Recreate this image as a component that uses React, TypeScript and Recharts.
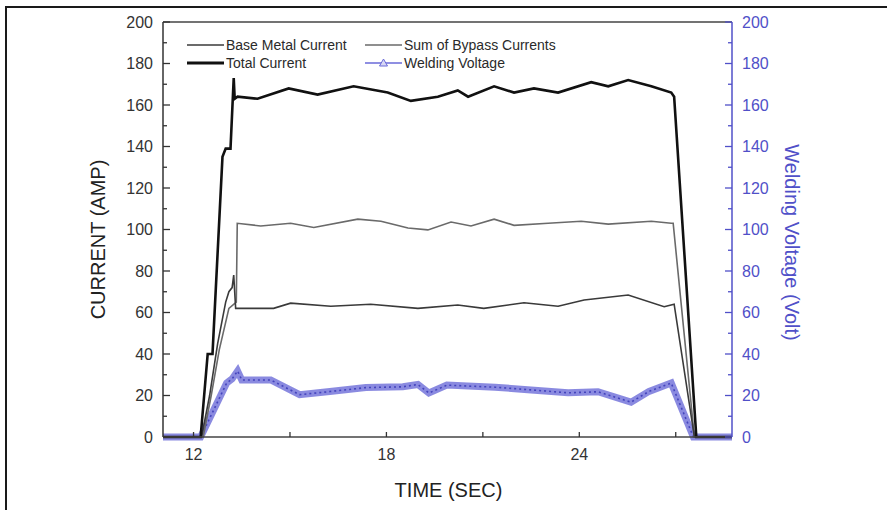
import { LineChart, Line, XAxis, YAxis, ReferenceLine } from 'recharts';

const font = '"Liberation Sans", Arial, sans-serif';

// Time points (sec) and values
const totalTime = [11.05, 12.22, 12.44, 12.59, 12.9, 13.0, 13.15, 13.25, 13.28, 13.37, 13.99, 14.96, 15.86, 16.98, 18.04, 18.76, 19.6, 20.22, 20.54, 21.35, 21.97, 22.59, 23.34, 24.37, 24.9, 25.52, 26.24, 26.86, 26.95, 27.64, 28.75];
const totalAmp = [0, 0, 40, 40, 135, 139, 139, 173, 163, 164, 163, 168, 165, 169, 166, 162, 164, 167, 164, 169, 166, 168, 166, 171, 169, 172, 169, 166, 164, 0, 0];

const baseTime = [11.05, 12.25, 12.5, 12.75, 13.0, 13.1, 13.2, 13.25, 13.31, 13.37, 14.49, 15.02, 16.27, 17.51, 18.98, 20.22, 21.03, 22.28, 23.34, 24.15, 25.52, 26.64, 26.95, 27.58, 28.75];
const baseAmp = [0, 0, 20, 45, 65, 70, 72, 78, 62, 62, 62, 64.5, 63, 64, 62, 63.6, 62, 64.7, 63, 66, 68.4, 62.8, 64, 0, 0];

const bypassTime = [11.05, 12.3, 12.55, 12.8, 13.1, 13.33, 13.36, 14.09, 15.02, 15.74, 17.11, 17.83, 18.67, 19.29, 20.01, 20.63, 21.35, 21.97, 23.03, 24.06, 24.9, 26.24, 26.86, 26.92, 27.58, 28.75];
const bypassAmp = [0, 0, 20, 42, 62, 65, 103, 101.7, 103, 101, 105, 104, 100.7, 99.8, 103.6, 101.7, 105, 102, 103, 104, 102.6, 104, 103, 103, 0, 0];

const voltTime = [11.05, 12.22, 13.03, 13.2, 13.37, 13.5, 14.4, 15.3, 16.24, 17.36, 18.51, 18.98, 19.32, 19.88, 21.38, 22.5, 23.65, 24.58, 25.61, 26.17, 26.86, 27.55, 28.75];
const voltValue = [0, 0, 26, 28, 31.8, 27.5, 27.5, 20.4, 21.9, 23.8, 24.2, 25.3, 21.2, 25, 24, 22.7, 21.3, 21.8, 16.8, 22, 26, 0, 0];

const xTicks = [12, 15, 18, 21, 24, 27];
const xLabelTicks = [12, 18, 24];
const yTicks = [0, 10, 20, 30, 40, 50, 60, 70, 80, 90, 100, 110, 120, 130, 140, 150, 160, 170, 180, 190, 200];

const toPoints = (ts: number[], vs: number[]) => ts.map((t, i) => ({ t, v: vs[i] }));
const totalData = toPoints(totalTime, totalAmp);
const baseData = toPoints(baseTime, baseAmp);
const bypassData = toPoints(bypassTime, bypassAmp);
const voltData = toPoints(voltTime, voltValue);

const BLUE = '#5050c8';
const DARK = '#333';

const LeftTick = (props: any) => {
  const { x, y, payload } = props;
  const major = payload.value % 20 === 0;
  const ax = x + 10;
  return (
    <g>
      <line x1={ax} x2={ax + (major ? 7 : 4)} y1={y} y2={y} stroke={DARK} strokeWidth={1.3} />
      {major && (
        <text x={x} y={y} dy="0.36em" textAnchor="end" fontSize={16} fontFamily={font} fill="#333">
          {payload.value}
        </text>
      )}
    </g>
  );
};

const RightTick = (props: any) => {
  const { x, y, payload } = props;
  const major = payload.value % 20 === 0;
  const ax = x - 10;
  return (
    <g>
      <line x1={ax} x2={ax - (major ? 7 : 4)} y1={y} y2={y} stroke={BLUE} strokeWidth={1.3} />
      {major && (
        <text x={x} y={y} dy="0.36em" textAnchor="start" fontSize={16} fontFamily={font} fill={BLUE}>
          {payload.value}
        </text>
      )}
    </g>
  );
};

const BottomTick = (props: any) => {
  const { x, y, payload } = props;
  const ay = y - 11;
  return (
    <g>
      <line x1={x} x2={x} y1={ay} y2={ay - 5} stroke={DARK} strokeWidth={1.3} />
      {xLabelTicks.includes(payload.value) && (
        <text x={x} y={y} dy="0.75em" textAnchor="middle" fontSize={16} fontFamily={font} fill="#333">
          {payload.value}
        </text>
      )}
    </g>
  );
};

const legendItems = [
  { name: 'Base Metal Current', color: '#3a3a3a', width: 1.6, row: 0, col: 0 },
  { name: 'Sum of Bypass Currents', color: '#6a6a6a', width: 1.6, row: 0, col: 1 },
  { name: 'Total Current', color: '#111', width: 2.8, row: 1, col: 0 },
  { name: 'Welding Voltage', color: '#6a6ad8', width: 1.3, row: 1, col: 1 },
];

const ChartLegend = () => (
  <div
    style={{
      position: 'absolute',
      left: 187,
      top: 37,
      width: 420,
      height: 36,
      fontFamily: font,
      fontSize: 14,
      color: '#2a2a2a',
    }}
  >
    {legendItems.map((it) => (
      <div
        key={it.name}
        style={{
          position: 'absolute',
          left: it.col ? 178 : 0,
          top: it.row ? 18 : 0,
          height: 16,
          display: 'flex',
          alignItems: 'center',
          whiteSpace: 'nowrap',
        }}
      >
        <svg width={37} height={16}>
          <line x1={0} x2={37} y1={8} y2={8} stroke={it.color} strokeWidth={it.width} />
          {it.row === 1 && it.col === 1 && (
            <polygon points="18.5,4 22.5,11 14.5,11" fill="#d8d8f4" stroke="#6a6ad8" strokeWidth={1} />
          )}
        </svg>
        <span style={{ marginLeft: 2 }}>{it.name}</span>
      </div>
    ))}
  </div>
);

const App = () => {
  return (
    <div style={{ position: 'absolute', left: 0, top: 0, width: 887, height: 510, overflow: 'hidden', background: '#fff' }}>
      <div
        style={{
          position: 'absolute',
          left: 5,
          top: 6,
          width: 882,
          height: 504,
          boxSizing: 'border-box',
          borderTop: '2.5px solid #1a1a1a',
          borderLeft: '2.5px solid #1a1a1a',
        }}
      />
      <div style={{ position: 'absolute', left: 0, top: 0 }}>
        <LineChart width={887} height={510} margin={{ top: 22, right: 95, bottom: 43, left: 103 }}>
          <XAxis
            dataKey="t"
            type="number"
            domain={[11.05, 28.75]}
            allowDataOverflow
            ticks={xTicks}
            interval={0}
            tickSize={0}
            tickMargin={11}
            tickLine={false}
            tick={<BottomTick />}
            height={30}
            stroke="#444"
            strokeWidth={1.5}
            label={{
              content: ({ viewBox }: any) => (
                <text
                  x={viewBox.x + viewBox.width / 2 + 1}
                  y={497}
                  textAnchor="middle"
                  fontSize={20}
                  fontFamily={font}
                  fill="#222"
                >
                  TIME (SEC)
                </text>
              ),
            }}
          />
          <YAxis
            yAxisId="left"
            domain={[0, 200]}
            ticks={yTicks}
            interval={0}
            width={60}
            tickSize={0}
            tickMargin={10}
            tickLine={false}
            tick={<LeftTick />}
            stroke={DARK}
            strokeWidth={1.5}
            label={{
              content: ({ viewBox }: any) => {
                const cx = viewBox.x + viewBox.width - 65;
                const cy = viewBox.y + viewBox.height / 2 + 10;
                return (
                  <text
                    x={cx}
                    y={cy}
                    transform={`rotate(-90 ${cx} ${cy})`}
                    textAnchor="middle"
                    dominantBaseline="central"
                    fontSize={20}
                    fontFamily={font}
                    fill="#222"
                  >
                    CURRENT (AMP)
                  </text>
                );
              },
            }}
          />
          <YAxis
            yAxisId="right"
            orientation="right"
            domain={[0, 200]}
            ticks={yTicks}
            interval={0}
            width={60}
            tickSize={0}
            tickMargin={10}
            tickLine={false}
            tick={<RightTick />}
            stroke={BLUE}
            strokeWidth={1.5}
            label={{
              content: ({ viewBox }: any) => {
                const cx = viewBox.x + 60;
                const cy = viewBox.y + viewBox.height / 2 + 13;
                return (
                  <text
                    x={cx}
                    y={cy}
                    transform={`rotate(90 ${cx} ${cy})`}
                    textAnchor="middle"
                    dominantBaseline="central"
                    fontSize={20}
                    fontFamily={font}
                    fill={BLUE}
                  >
                    Welding Voltage (Volt)
                  </text>
                );
              },
            }}
          />
          <ReferenceLine yAxisId="left" y={200} stroke="#444" strokeWidth={1.5} />
          <Line
            yAxisId="right"
            data={voltData}
            dataKey="v"
            name="Welding Voltage"
            stroke="#7676da"
            strokeOpacity={0.85}
            strokeWidth={7}
            dot={false}
            isAnimationActive={false}
          />
          <Line
            yAxisId="right"
            data={voltData}
            dataKey="v"
            name="Welding Voltage core"
            stroke="#4444bc"
            strokeWidth={1.6}
            strokeDasharray="2 3"
            dot={false}
            isAnimationActive={false}
          />
          <Line
            yAxisId="left"
            data={bypassData}
            dataKey="v"
            name="Sum of Bypass Currents"
            stroke="#6a6a6a"
            strokeWidth={1.6}
            dot={false}
            isAnimationActive={false}
          />
          <Line
            yAxisId="left"
            data={baseData}
            dataKey="v"
            name="Base Metal Current"
            stroke="#3a3a3a"
            strokeWidth={1.6}
            dot={false}
            isAnimationActive={false}
          />
          <Line
            yAxisId="left"
            data={totalData}
            dataKey="v"
            name="Total Current"
            stroke="#111"
            strokeWidth={2.6}
            dot={false}
            isAnimationActive={false}
          />
        </LineChart>
      </div>
      <ChartLegend />
    </div>
  );
};

export default App;
